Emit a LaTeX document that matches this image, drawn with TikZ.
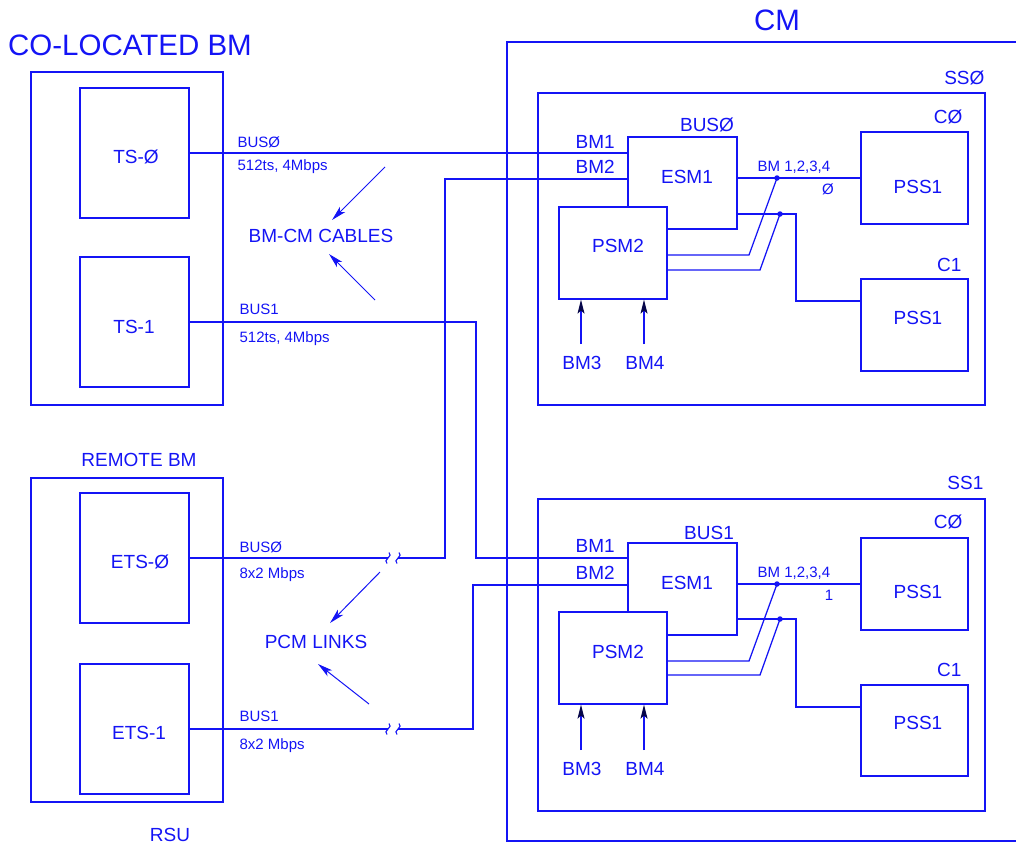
\documentclass[tikz,border=0pt]{standalone}
\usepackage{fontspec}
\setmainfont{Liberation Sans}
\usetikzlibrary{arrows.meta}
\definecolor{ink}{RGB}{20,20,245}
\colorlet{tipc}{black!70!ink}
\begin{document}
\begin{tikzpicture}[x=1pt,y=-1pt, line width=1.25pt, color=ink,
  every node/.style={text=ink, inner sep=0pt},
  box/.style={draw=ink, fill=white, inner sep=0pt},
  big/.style={font=\fontsize{19}{22}\selectfont, text height=13.6pt, text depth=0pt},
  small/.style={font=\fontsize{15}{18}\selectfont, text height=10.7pt, text depth=0pt},
  title/.style={font=\fontsize{29.5}{33}\selectfont, text height=21pt, text depth=0pt},
  arr/.style={line width=1pt, -{Stealth[length=15pt,width=7.5pt,inset=4pt]}},
  uparr/.style={line width=1.2pt, -{Stealth[length=14pt,width=7pt,inset=3pt,color=tipc]}},
  jdot/.style={circle, fill=ink, minimum size=5.5pt, inner sep=0pt},
  brk/.pic={\draw[line width=1.1pt] (-1,5.5) .. controls (-6,2) and (6,-2) .. (1,-5.5);}]
\useasboundingbox (0,0) rectangle (1016,849);

% ---------- titles ----------
\node[title] (tcolo) at (130,45) {CO-LOCATED BM};
\node[title] (tcm) at (777,20) {CM};
\node[big] (tremote) at (139,460) {REMOTE BM};
\node[big] (trsu) at (170,835) {RSU};

% ---------- left boxes ----------
\node[box, minimum width=192pt, minimum height=333pt] (colo) at (127,238.5) {};
\node[box, minimum width=192pt, minimum height=324pt] (remote) at (127,640) {};
\node[box, minimum width=109pt, minimum height=130pt] (ts0) at (134.5,153) {};
\node[box, minimum width=109pt, minimum height=130pt] (ts1) at (134.5,322) {};
\node[box, minimum width=109pt, minimum height=130pt] (ets0) at (134.5,558) {};
\node[box, minimum width=109pt, minimum height=130pt] (ets1) at (134.5,729) {};
\node[big] (lts0) at (136,157) {TS-Ø};
\node[big] (lts1) at (134,327) {TS-1};
\node[big] (lets0) at (140,562) {ETS-Ø};
\node[big] (lets1) at (139,733) {ETS-1};

% ---------- CM box ----------
\draw (1030,42) -- (507,42) -- (507,841) -- (1030,841);

% ---------- SS boxes ----------
\node[box, minimum width=447pt, minimum height=312pt] (ss0) at (761.5,249) {};
\node[box, minimum width=447pt, minimum height=312pt] (ss1) at (761.5,655) {};
\node[big, anchor=east] (lss0) at (985,78) {SSØ};
\node[big, anchor=east] (lss1) at (984,483) {SS1};

% ---------- SSØ internals ----------
\node[box, minimum width=109pt, minimum height=92pt] (esmA) at (682.5,183) {};
\node[box, minimum width=108pt, minimum height=92pt] (psmA) at (613,253) {};
\node[box, minimum width=107pt, minimum height=92pt] (pssA0) at (914.5,178) {};
\node[box, minimum width=107pt, minimum height=92pt] (pssA1) at (914.5,325) {};
\node[big] (lesmA) at (687,177) {ESM1};
\node[big] (lpsmA) at (618,246) {PSM2};
\node[big] (lpssA0) at (918,187) {PSS1};
\node[big] (lpssA1) at (918,318) {PSS1};
\node[big, anchor=east] (lcA0) at (963,117) {CØ};
\node[big, anchor=east] (lcA1) at (962,265) {C1};
\node[big] (lbusA) at (707,125) {BUSØ};
\node[big, anchor=west] (lbm1A) at (575,142) {BM1};
\node[big, anchor=west] (lbm2A) at (575,167) {BM2};
\node[small, anchor=west] (lbmsA) at (757,166) {BM 1,2,3,4};
\node[small] (lzA) at (828,189) {Ø};
\node[big] (lbm3A) at (582,363) {BM3};
\node[big] (lbm4A) at (645,363) {BM4};

% ---------- SS1 internals ----------
\node[box, minimum width=109pt, minimum height=92pt] (esmB) at (682.5,589) {};
\node[box, minimum width=108pt, minimum height=92pt] (psmB) at (613,658) {};
\node[box, minimum width=107pt, minimum height=92pt] (pssB0) at (914.5,584) {};
\node[box, minimum width=107pt, minimum height=91pt] (pssB1) at (914.5,730.5) {};
\node[big] (lesmB) at (687,583) {ESM1};
\node[big] (lpsmB) at (618,652) {PSM2};
\node[big] (lpssB0) at (918,592) {PSS1};
\node[big] (lpssB1) at (918,723) {PSS1};
\node[big, anchor=east] (lcB0) at (963,522) {CØ};
\node[big, anchor=east] (lcB1) at (962,670) {C1};
\node[big] (lbusB) at (709,533) {BUS1};
\node[big, anchor=west] (lbm1B) at (575,546) {BM1};
\node[big, anchor=west] (lbm2B) at (575,573) {BM2};
\node[small, anchor=west] (lbmsB) at (757,572) {BM 1,2,3,4};
\node[small] (loB) at (829,595) {1};
\node[big] (lbm3B) at (582,769) {BM3};
\node[big] (lbm4B) at (645,769) {BM4};

% ---------- bus labels on left ----------
\node[small, anchor=west] (lb0) at (237,142) {BUSØ};
\node[small, anchor=west] (lr0) at (237,165) {512ts, 4Mbps};
\node[small, anchor=west] (lb1) at (239,309) {BUS1};
\node[small, anchor=west] (lr1) at (239,337) {512ts, 4Mbps};
\node[small, anchor=west] (le0) at (239,547) {BUSØ};
\node[small, anchor=west] (lm0) at (239,573) {8x2 Mbps};
\node[small, anchor=west] (le1) at (239,716) {BUS1};
\node[small, anchor=west] (lm1) at (239,744) {8x2 Mbps};
\node[big] (lcables) at (321,236) {BM-CM CABLES};
\node[big] (lpcm) at (316,642) {PCM LINKS};

% ---------- coordinates ----------
\coordinate (k0a) at (388,558);
\coordinate (k0b) at (398,558);
\coordinate (k1a) at (388,729);
\coordinate (k1b) at (398,729);
\coordinate (vA) at (445,558);
\coordinate (vB) at (445,179);
\coordinate (uA) at (476,322);
\coordinate (uB) at (476,558);
\coordinate (wA) at (473,729);
\coordinate (wB) at (473,585);

% ---------- bus connections ----------
\draw (ts0.east) -- (ts0.east -| esmA.west);
\draw (ets0.east) -- (k0a);
\draw (k0b) -- (vA) -- (vB) -- (vB -| esmA.west);
\draw (ts1.east) -- (uA) -- (uB) -- (uB -| esmB.west);
\draw (ets1.east) -- (k1a);
\draw (k1b) -- (wA) -- (wB) -- (wB -| esmB.west);
\pic at (k0a) {brk};
\pic at (k0b) {brk};
\pic at (k1a) {brk};
\pic at (k1b) {brk};

% ---------- SSØ outputs ----------
\node[jdot] (dA1) at (777,178) {};
\node[jdot] (dA2) at (780,214) {};
\coordinate (pA1) at (749,255);
\coordinate (pA2) at (760,270);
\coordinate (qA1) at (796,214);
\coordinate (qA2) at (796,301);
\draw (esmA.east |- pssA0.west) -- (pssA0.west);
\draw (esmA.east |- dA2) -- (qA1) -- (qA2) -- (qA2 -| pssA1.west);
\draw (psmA.east |- pA1) -- (pA1) -- (dA1.center);
\draw (psmA.east |- pA2) -- (pA2) -- (dA2.center);

% ---------- SS1 outputs ----------
\node[jdot] (dB1) at (777,584) {};
\node[jdot] (dB2) at (780,619) {};
\coordinate (pB1) at (749,661);
\coordinate (pB2) at (760,675);
\coordinate (qB1) at (796,619);
\coordinate (qB2) at (796,707);
\draw (esmB.east |- pssB0.west) -- (pssB0.west);
\draw (esmB.east |- dB2) -- (qB1) -- (qB2) -- (qB2 -| pssB1.west);
\draw (psmB.east |- pB1) -- (pB1) -- (dB1.center);
\draw (psmB.east |- pB2) -- (pB2) -- (dB2.center);

% ---------- BM3 / BM4 inputs ----------
\coordinate (a3A) at (581,344);
\coordinate (a4A) at (644,344);
\coordinate (a3B) at (581,750);
\coordinate (a4B) at (644,750);
\draw[uparr] (a3A) -- (a3A |- psmA.south);
\draw[uparr] (a4A) -- (a4A |- psmA.south);
\draw[uparr] (a3B) -- (a3B |- psmB.south);
\draw[uparr] (a4B) -- (a4B |- psmB.south);

% ---------- pointer arrows ----------
\coordinate (c1s) at (385,167);
\coordinate (c1e) at (332,220);
\coordinate (c2s) at (375,300);
\coordinate (c2e) at (329,254);
\coordinate (p1s) at (380,572);
\coordinate (p1e) at (330,623);
\coordinate (p2s) at (369,704);
\coordinate (p2e) at (318,664);
\draw[arr] (c1s) -- (c1e);
\draw[arr] (c2s) -- (c2e);
\draw[arr] (p1s) -- (p1e);
\draw[arr] (p2s) -- (p2e);
\end{tikzpicture}
\end{document}
